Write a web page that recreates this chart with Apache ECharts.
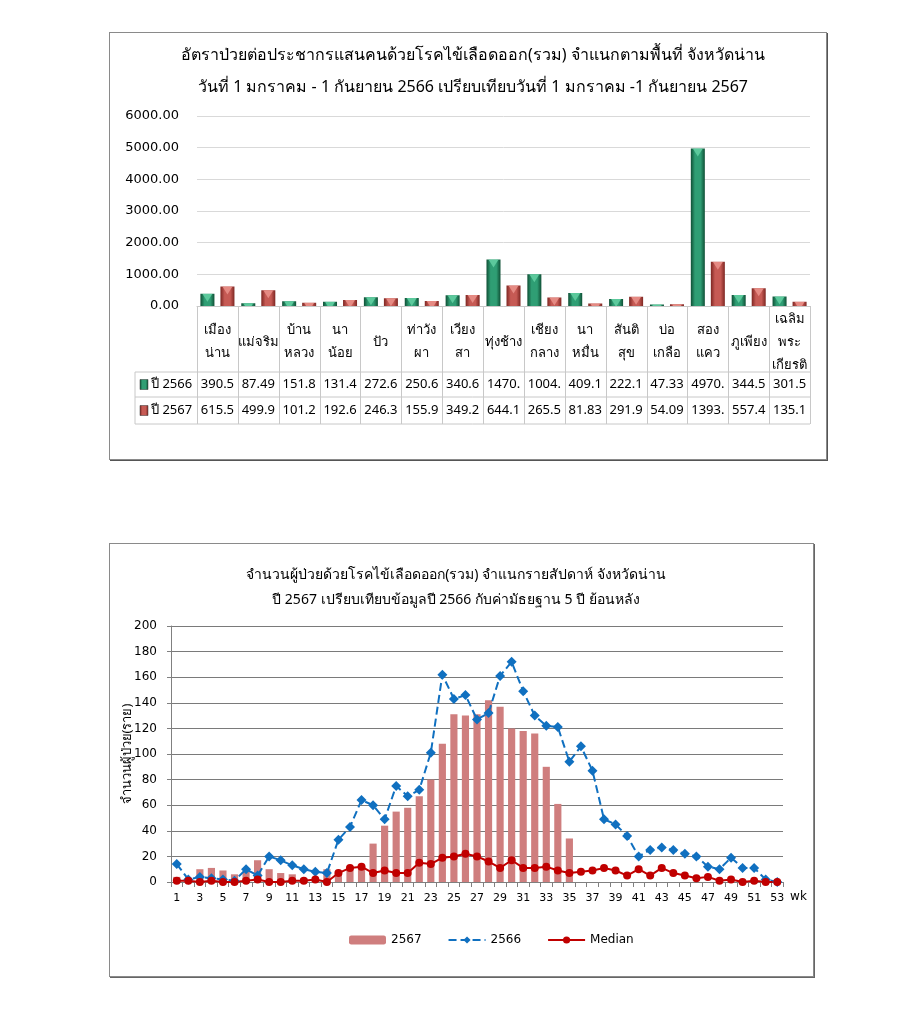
<!DOCTYPE html>
<html><head><meta charset="utf-8">
<script src="https://cdn.jsdelivr.net/npm/echarts@6/dist/echarts.min.js"></script>
<style>
html,body{margin:0;padding:0;background:#fff;}
body{width:900px;height:1024px;position:relative;overflow:hidden;}
#c1{position:absolute;left:109px;top:32px;width:716px;height:426px;border:1px solid #8a8a8a;box-shadow:1px 1px 0 #555;}
#c2{position:absolute;left:109px;top:543px;width:703px;height:432px;border:1px solid #8a8a8a;box-shadow:1px 1px 0 #666;}
</style></head>
<body>
<div id="c1"></div>
<div id="c2"></div>
<script>
// ---------- Chart 1 data ----------
const regions = ['เมือง\nน่าน','แม่จริม','บ้าน\nหลวง','นา\nน้อย','ปัว','ท่าวัง\nผา','เวียง\nสา','ทุ่งช้าง','เชียง\nกลาง','นา\nหมื่น','สันติ\nสุข','บ่อ\nเกลือ','สอง\nแคว','ภูเพียง','เฉลิม\nพระ\nเกียรติ'];
const rate2566 = [390.5, 87.49, 151.8, 131.4, 272.6, 250.6, 340.6, 1470.3, 1004.2, 409.1, 222.1, 47.33, 4970.4, 344.5, 301.5];
const rate2567 = [615.5, 499.9, 101.2, 192.6, 246.3, 155.9, 349.2, 644.1, 265.5, 81.83, 291.9, 54.09, 1393.6, 557.4, 135.1];
const seriesNames1 = ['ปี 2566', 'ปี 2567'];
const title1 = 'อัตราป่วยต่อประชากรแสนคนด้วยโรคไข้เลือดออก(รวม) จำแนกตามพื้นที่ จังหวัดน่าน\nวันที่ 1 มกราคม - 1 กันยายน 2566 เปรียบเทียบวันที่ 1 มกราคม -1 กันยายน 2567';

// ---------- Chart 2 data ----------
const weeks = Array.from({length:53},(_,i)=>String(i+1));
const cases2567 = [4,1,10,11,9,6,8,17,10,7,6,3,2,10,7,12,12,30,44,55,58,67,80,108,131,130,131,142,137,120,118,116,90,61,34];
const cases2566 = [14,2,4,3,2,1,10,5,20,17,13,10,8,7,33,43,64,60,49,75,67,72,101,162,143,146,127,132,161,172,149,130,122,121,94,106,87,49,45,36,20,25,27,25,22,20,12,10,19,11,11,2,0];
const median5y = [1,1,0,1,0,0,1,2,0,0,1,1,2,0,7,11,12,7,9,7,7,15,14,19,20,22,20,16,11,17,11,11,12,9,7,8,9,11,9,5,10,5,11,7,5,3,4,1,2,0,1,0,0];
const title2 = 'จำนวนผู้ป่วยด้วยโรคไข้เลือดออก(รวม) จำแนกรายสัปดาห์ จังหวัดน่าน\nปี 2567 เปรียบเทียบข้อมูลปี 2566 กับค่ามัธยฐาน 5 ปี ย้อนหลัง';
const yName2 = 'จำนวนผู้ป่วย(ราย)';

const FONT = 'Tahoma, "Noto Sans", "DejaVu Sans", sans-serif';
const fmt = v => v.toFixed(2).slice(0,5);

function grad(edge, mid){
  return new echarts.graphic.LinearGradient(0,0,1,0,[
    {offset:0,color:edge},{offset:0.3,color:mid},{offset:0.5,color:mid},{offset:0.7,color:mid},{offset:1,color:edge}]);
}
const greenG = grad('#0f4f35','#2f9e74');
const redG = grad('#7d2622','#c65a54');
const TRI = 'path://M0,0 L10,0 L5,8 Z';

const c1 = echarts.init(document.getElementById('c1'));
const G1 = {left:87, right:16, top:83, height:190, containLabel:false, outerBoundsMode:'none'};
c1.setOption({
  animation:false,
  title:{text:title1, left:358, top:1, textAlign:'center',
    textStyle:{fontFamily:FONT, fontSize:16, fontWeight:'normal', color:'#000', lineHeight:32}},
  grid:G1,
  xAxis:{type:'category', data:regions,
    axisLine:{show:true, lineStyle:{color:'#c8c8c8'}}, axisTick:{show:false},
    axisLabel:{interval:0, margin:36, verticalAlign:'middle', lineHeight:23, fontFamily:FONT, fontSize:13, color:'#000'}},
  yAxis:{type:'value', min:0, max:6000, interval:1000,
    axisLine:{show:false}, axisTick:{show:false},
    axisLabel:{formatter:v=>v.toFixed(2), fontFamily:'"DejaVu Sans", sans-serif', fontSize:13, color:'#000', margin:18},
    splitLine:{lineStyle:{color:'#d9d9d9'}}},
  series:[
    {name:seriesNames1[0], type:'bar', data:rate2566, barWidth:14, barGap:'43%', itemStyle:{color:greenG}},
    {name:seriesNames1[1], type:'bar', data:rate2567, barWidth:14, barGap:'43%', itemStyle:{color:redG}},
    {name:seriesNames1[0]+' top', type:'pictorialBar', data:rate2566, barWidth:14, barGap:'43%', z:3,
      symbol:TRI, symbolSize:[10,8], symbolPosition:'end', symbolClip:true, itemStyle:{color:'#5cc99c'}},
    {name:seriesNames1[1]+' top', type:'pictorialBar', data:rate2567, barWidth:14, barGap:'43%', z:3,
      symbol:TRI, symbolSize:[10,8], symbolPosition:'end', symbolClip:true, itemStyle:{color:'#e58a83'}}
  ]
});

// Build data table under the chart from the arrays
(function(){
  const xs = regions.map((r,i)=>c1.convertToPixel({xAxisIndex:0}, i));
  const cw = xs[1]-xs[0];
  const xL = xs[0]-cw/2, xR = xs[xs.length-1]+cw/2;
  const y0 = G1.top+G1.height, y1 = 339, y2 = 364, y3 = 391, legL = 25;
  const LC = '#c8c8c8';
  const els = [];
  const line = (x1,ya,x2,yb)=>els.push({type:'line', shape:{x1:x1,y1:ya,x2:x2,y2:yb}, style:{stroke:LC, lineWidth:1}, silent:true});
  line(legL,y1,xR,y1); line(legL,y2,xR,y2); line(legL,y3,xR,y3);
  line(legL,y1,legL,y3);
  for(let i=0;i<=regions.length;i++){ const x = Math.round(xL+i*cw)+0.5; line(x,y0,x,y3); }
  const rows = [[rate2566, greenG, seriesNames1[0], (y1+y2)/2],[rate2567, redG, seriesNames1[1], (y2+y3)/2]];
  rows.forEach(([arr,col,nm,yc])=>{
    els.push({type:'rect', shape:{x:legL+5, y:yc-5, width:8, height:10}, style:{fill:col, stroke:'#333', lineWidth:0.5}});
    els.push({type:'text', x:legL+16, y:yc, style:{text:nm, font:'13px '+FONT, fill:'#000', verticalAlign:'middle', align:'left'}});
    arr.forEach((v,i)=>els.push({type:'text', x:xs[i], y:yc, style:{text:fmt(v), font:'13px '+FONT, fill:'#000', align:'center', verticalAlign:'middle'}}));
  });
  c1.setOption({graphic:{elements:els}});
})();

// ---------- Chart 2 ----------
const c2 = echarts.init(document.getElementById('c2'));
c2.setOption({
  animation:false,
  title:{text:title2, left:341, top:14, textAlign:'center',
    textStyle:{fontFamily:FONT, fontSize:14, fontWeight:'normal', color:'#000', lineHeight:25}},
  grid:{left:61, right:30, top:82, height:256, containLabel:false, outerBoundsMode:'none'},
  legend:{left:234, top:385, itemWidth:37, itemHeight:9, itemGap:26,
    textStyle:{fontFamily:'"DejaVu Sans", sans-serif', fontSize:12, color:'#000'},
    data:['2567','2566','Median']},
  xAxis:{type:'category', data:weeks, name:'wk', nameLocation:'end', nameGap:4,
    nameTextStyle:{fontFamily:'"DejaVu Sans", sans-serif', fontSize:12, color:'#000', verticalAlign:'top', padding:[9,0,0,0]},
    axisLine:{lineStyle:{color:'#808080'}},
    axisTick:{show:true, interval:0, length:5, lineStyle:{color:'#808080'}},
    axisLabel:{interval:1, margin:11, fontFamily:'"DejaVu Sans", sans-serif', fontSize:11, color:'#000'}},
  yAxis:{type:'value', min:0, max:200, interval:20, name:yName2, nameLocation:'middle', nameGap:37, nameMoveOverlap:false,
    nameTextStyle:{fontFamily:FONT, fontSize:13, color:'#000'},
    axisLine:{show:true, lineStyle:{color:'#808080'}},
    axisTick:{show:true, length:4, lineStyle:{color:'#808080'}},
    axisLabel:{margin:14, fontFamily:'"DejaVu Sans", sans-serif', fontSize:12, color:'#000'},
    splitLine:{lineStyle:{color:'#7a7a7a', width:1.2}}},
  series:[
    {name:'2567', type:'bar', data:cases2567, barWidth:'62%', itemStyle:{color:'#cf7e7e'}},
    {name:'2566', type:'line', data:cases2566, symbol:'diamond', symbolSize:10, showAllSymbol:true,
      lineStyle:{type:'dashed', color:'#1070c0', width:2}, itemStyle:{color:'#1070c0'}},
    {name:'Median', type:'line', data:median5y, symbol:'circle', symbolSize:8, showAllSymbol:true,
      lineStyle:{color:'#c00000', width:2}, itemStyle:{color:'#c00000'}}
  ]
});
</script>
</body></html>
